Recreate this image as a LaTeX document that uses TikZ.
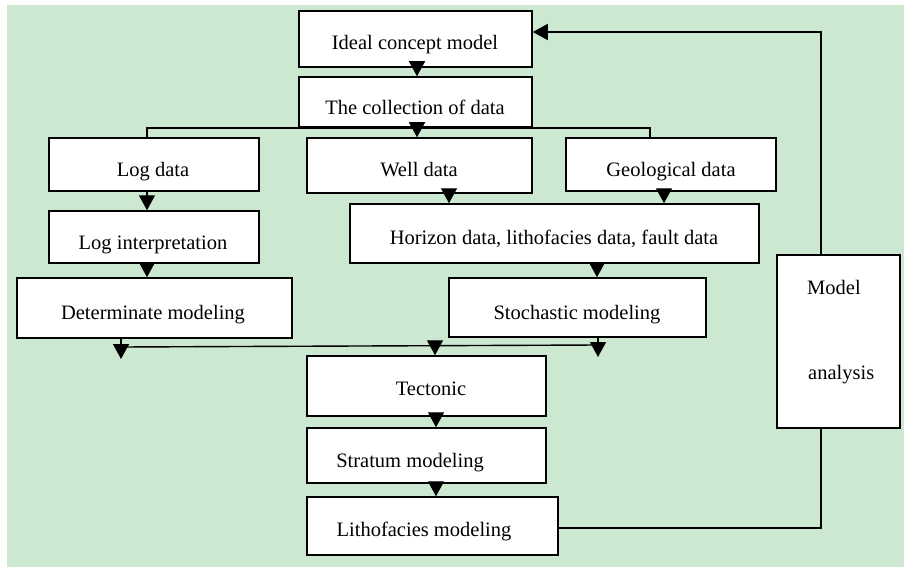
\documentclass[tikz,border=0pt]{standalone}
\usepackage{fontspec}
\setmainfont{Liberation Serif}
\usetikzlibrary{arrows.meta}
\definecolor{bggreen}{RGB}{204,232,208}
\begin{document}
\begin{tikzpicture}[x=1pt,y=-1pt,
  box/.style={draw=black,line width=1.5pt,fill=white,inner sep=0pt,rectangle},
  lbl/.style={anchor=base,inner sep=0pt,font=\fontsize{20.5}{24}\selectfont},
  lblw/.style={anchor=base west,inner sep=0pt,font=\fontsize{20.5}{24}\selectfont},
  conn/.style={line width=1.4pt,draw=black},
  arr/.style={conn,-{Triangle[width=16pt,length=15pt]}}]
\useasboundingbox (0,0) rectangle (904,567);
\fill[bggreen] (7,5) rectangle (904,567);
% boxes
\node[box,minimum width=233pt,minimum height=56pt] (ideal) at (415.5,39) {};
\node[box,minimum width=233pt,minimum height=50pt] (coll) at (415.5,102) {};
\node[box,minimum width=210pt,minimum height=53pt] (logd) at (154,164.5) {};
\node[box,minimum width=225pt,minimum height=55pt] (well) at (419.5,165.5) {};
\node[box,minimum width=210pt,minimum height=53pt] (geo) at (671,164.5) {};
\node[box,minimum width=210pt,minimum height=52pt] (logi) at (154,237) {};
\node[box,minimum width=409pt,minimum height=59pt] (hor) at (554.5,233.5) {};
\node[box,minimum width=275pt,minimum height=60pt] (det) at (154.5,308) {};
\node[box,minimum width=257pt,minimum height=59pt] (sto) at (577.5,307.5) {};
\node[box,minimum width=123pt,minimum height=173pt] (model) at (838.5,341.5) {};
\node[box,minimum width=239pt,minimum height=60pt] (tec) at (426.5,386) {};
\node[box,minimum width=239pt,minimum height=55pt] (str) at (426.5,455.5) {};
\node[box,minimum width=251pt,minimum height=58pt] (lit) at (432.5,526) {};
% texts
\node[lbl] (tideal) at (415,50) {Ideal concept model};
\node[lbl] (tcoll) at (415,115) {The collection of data};
\node[lbl] (tlogd) at (153,176.5) {Log data};
\node[lbl] (twell) at (419,176) {Well data};
\node[lbl] (tgeo) at (671,176) {Geological data};
\node[lbl] (tlogi) at (153,249) {Log interpretation};
\node[lbl] (thor) at (554,244) {Horizon data, lithofacies data, fault data};
\node[lbl] (tdet) at (153,319) {Determinate modeling};
\node[lbl] (tsto) at (577,319) {Stochastic modeling};
\node[lbl] (ttec) at (431,395.5) {Tectonic};
\node[lbl] (tstr) at (410,467.5) {Stratum modeling};
\node[lbl] (tlit) at (424,536) {Lithofacies modeling};
\node[lblw] (tmod1) at (807,294) {Model};
\node[lblw] (tmod2) at (808,379) {analysis};
% coordinates
\coordinate (bl) at (147,128);
\coordinate (br) at (650,128);
\coordinate (xl) at (147,0);
\coordinate (dl) at (121,359);
\coordinate (sr) at (598,357);
\coordinate (ml) at (121,347);
\coordinate (mr) at (598,345);
\coordinate (mt) at (435,343);
\coordinate (fb) at (821,528);
\coordinate (ft) at (821,32);
% connectors
\draw[arr] (ideal.south -| 417,0) -- (coll.north -| 417,0);
\draw[arr] (coll.south -| 417,0) -- (well.north -| 417,0);
\draw[conn] (logd.north -| bl) -- (bl) -- (br) -- (geo.north -| br);
\draw[arr] (logd.south -| xl) -- (logi.north -| xl);
\draw[arr] (logi.south -| xl) -- (det.north -| xl);
\draw[arr] (well.south -| 449,0) -- (hor.north -| 449,0);
\draw[arr] (geo.south -| 664,0) -- (hor.north -| 664,0);
\draw[arr] (hor.south -| 597,0) -- (sto.north -| 597,0);
\draw[arr] (det.south -| dl) -- (dl);
\draw[arr] (sto.south -| sr) -- (sr);
\draw[conn] (ml) -- (mr);
\draw[arr] (mt) -- (tec.north -| mt);
\draw[arr] (tec.south -| 436,0) -- (str.north -| 436,0);
\draw[arr] (str.south -| 436,0) -- (lit.north -| 436,0);
\draw[conn] (lit.east |- fb) -- (fb) -- (model.south -| fb);
\draw[arr] (model.north -| ft) -- (ft) -- (ideal.east |- ft);
\end{tikzpicture}
\end{document}
